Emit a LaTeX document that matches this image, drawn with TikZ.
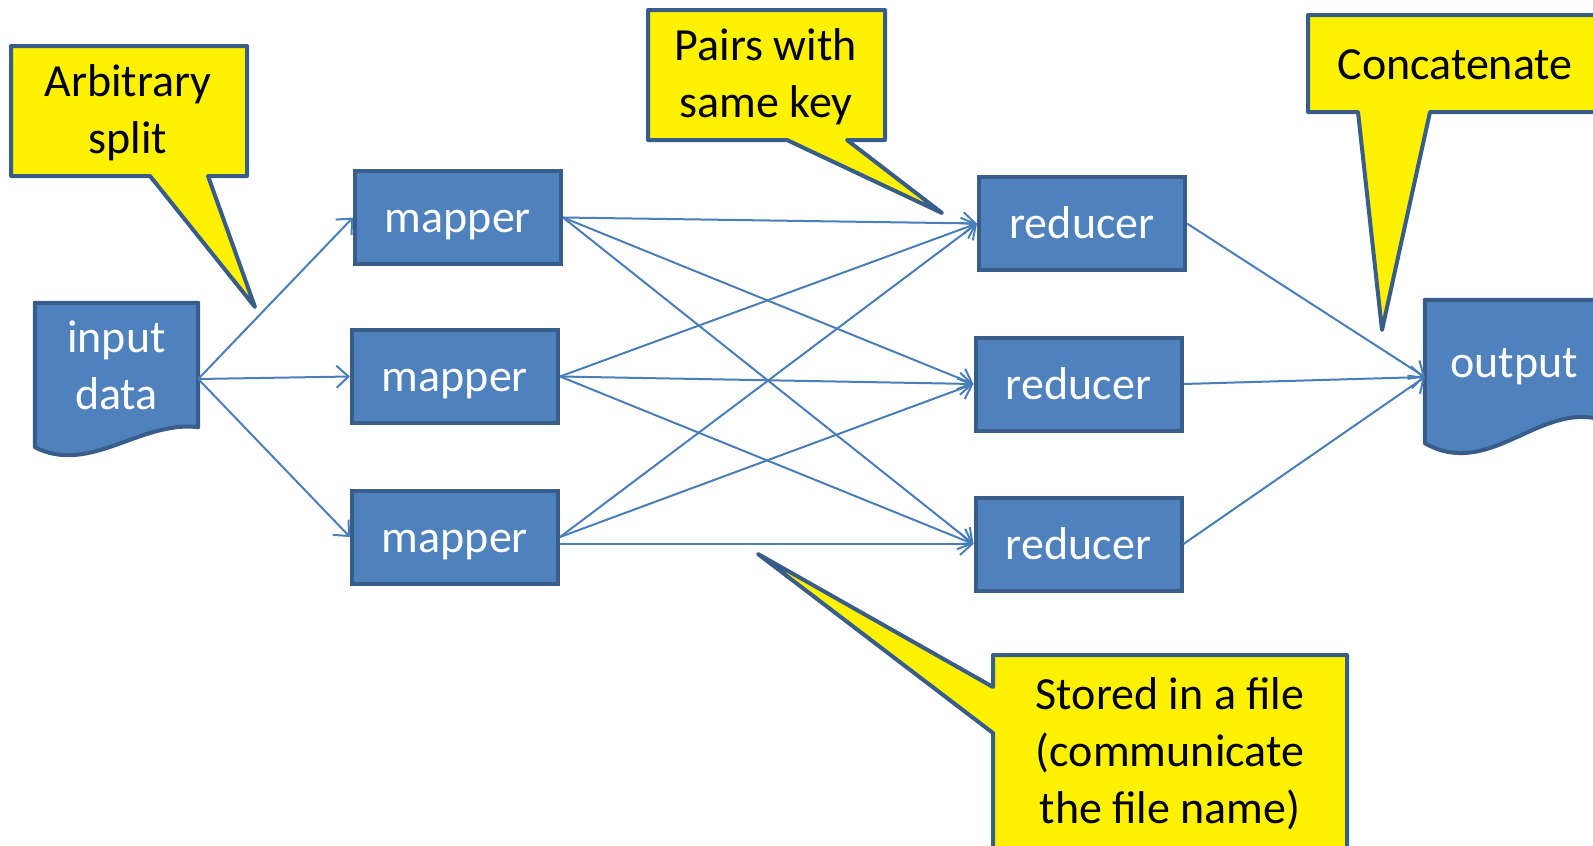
\documentclass[tikz,border=0pt]{standalone}
\usepackage{fontspec}
\setmainfont{Carlito}
\usetikzlibrary{arrows.meta,backgrounds}

\definecolor{boxblue}{RGB}{79,129,189}
\definecolor{rimblue}{RGB}{56,93,138}
\definecolor{lineblue}{RGB}{74,126,187}

\tikzset{
  bigtext/.style={font=\fontsize{46}{57}\selectfont},
  stage/.style={rectangle,draw=rimblue,fill=boxblue,line width=4pt,
    minimum width=206pt,minimum height=93pt,text=white,bigtext,
    text height=40pt,text depth=10pt},
  docnode/.style={rectangle,align=center,text=white,bigtext,inner sep=0pt},
  docshape/.style={draw=rimblue,fill=boxblue,line width=4pt,line join=round},
  callout/.style={draw=rimblue,fill=yellow,line width=4pt,line join=round},
  note/.style={align=center,text=black,bigtext},
  flow/.style={draw=lineblue,line width=2pt,-{Straight Barb[length=12pt,width=22pt]}}
}

\begin{document}
\begin{tikzpicture}[x=1pt,y=-1pt]

      \useasboundingbox (0,0) rectangle (1593,846);
      \clip (0,0) rectangle (1593,846);

      \node[docnode,minimum width=163pt,minimum height=124pt] (input) at (116.5,365) {input\\data};
      \node[docnode,minimum width=178pt,minimum height=124pt,text height=40pt,text depth=10pt] (output) at (1514,362) {output};

      \begin{scope}[on background layer]
        \draw[docshape] (input.north west) -- (input.north east) -- (input.south east)
          .. controls +(-58,-7) and +(55,28) .. ([yshift=-20pt]input.south west) -- cycle;
        \draw[docshape] (output.north west) -- (output.north east) -- ([yshift=4pt]output.south east)
          .. controls +(-63,-20) and +(65,37) .. ([yshift=-19pt]output.south west) -- cycle;
      \end{scope}

      \path (input.east) ++(0,14) coordinate (fanout);
      \path (output.west) ++(0,15) coordinate (fanin);

      \begin{scope}[every node/.style={stage}]
        \node (m1) at (458,217.5) {mapper};
        \node (m2) at (455,376.5) {mapper};
        \node (m3) at (455,537)   {mapper};
        \node (r1) at (1082,223.5) {reducer};
        \node (r2) at (1078.5,384) {reducer};
        \node (r3) at (1078.5,544) {reducer};
      \end{scope}

      \begin{scope}[every edge/.style={flow}]
        \path (fanout) edge (m1.west);
        \path (fanout) edge (m2.west);
        \path (fanout) edge (m3.west);

        \path (m1.east) edge (r1.west);
        \path (m1.east) edge (r2.west);
        \path (m1.east) edge (r3.west);
        \path (m2.east) edge (r1.west);
        \path (m2.east) edge (r2.west);
        \path (m2.east) edge (r3.west);
        \path (m3.east) edge (r1.west);
        \path (m3.east) edge (r2.west);
        \path (m3.east |- r3.west) edge (r3.west);

        \path (r1.east) edge (fanin);
        \path (r2.east) edge (fanin);
        \path (r3.east) edge (fanin);
      \end{scope}

      \begin{scope}[every path/.style={callout}]
        \draw (11,46) -- (247,46) -- (247,176) -- (208,176) -- (255,307) -- (150,176) -- (11,176) -- cycle;
        \draw (648,10) -- (885,10) -- (885,140) -- (847,140) -- (942,213) -- (787,140) -- (648,140) -- cycle;
        \draw (1308,15) -- (1610,15) -- (1610,112) -- (1430,112) -- (1382,330) -- (1358,112) -- (1308,112) -- cycle;
        \draw (993,655) -- (1347,655) -- (1347,870) -- (993,870) -- (993,733) -- (758,554) -- (993,687) -- cycle;
      \end{scope}

      \begin{scope}[every node/.style={note}]
        \node (split)   at (128,113)  {Arbitrary\\split};
        \node (samekey) at (766,77)   {Pairs with\\same key};
        \node (concat)  at (1455,65)  {Concatenate};
        \node (stored)  at (1170,754) {Stored in a file\\(communicate\\the file name)};
      \end{scope}

    \end{tikzpicture}
\end{document}
